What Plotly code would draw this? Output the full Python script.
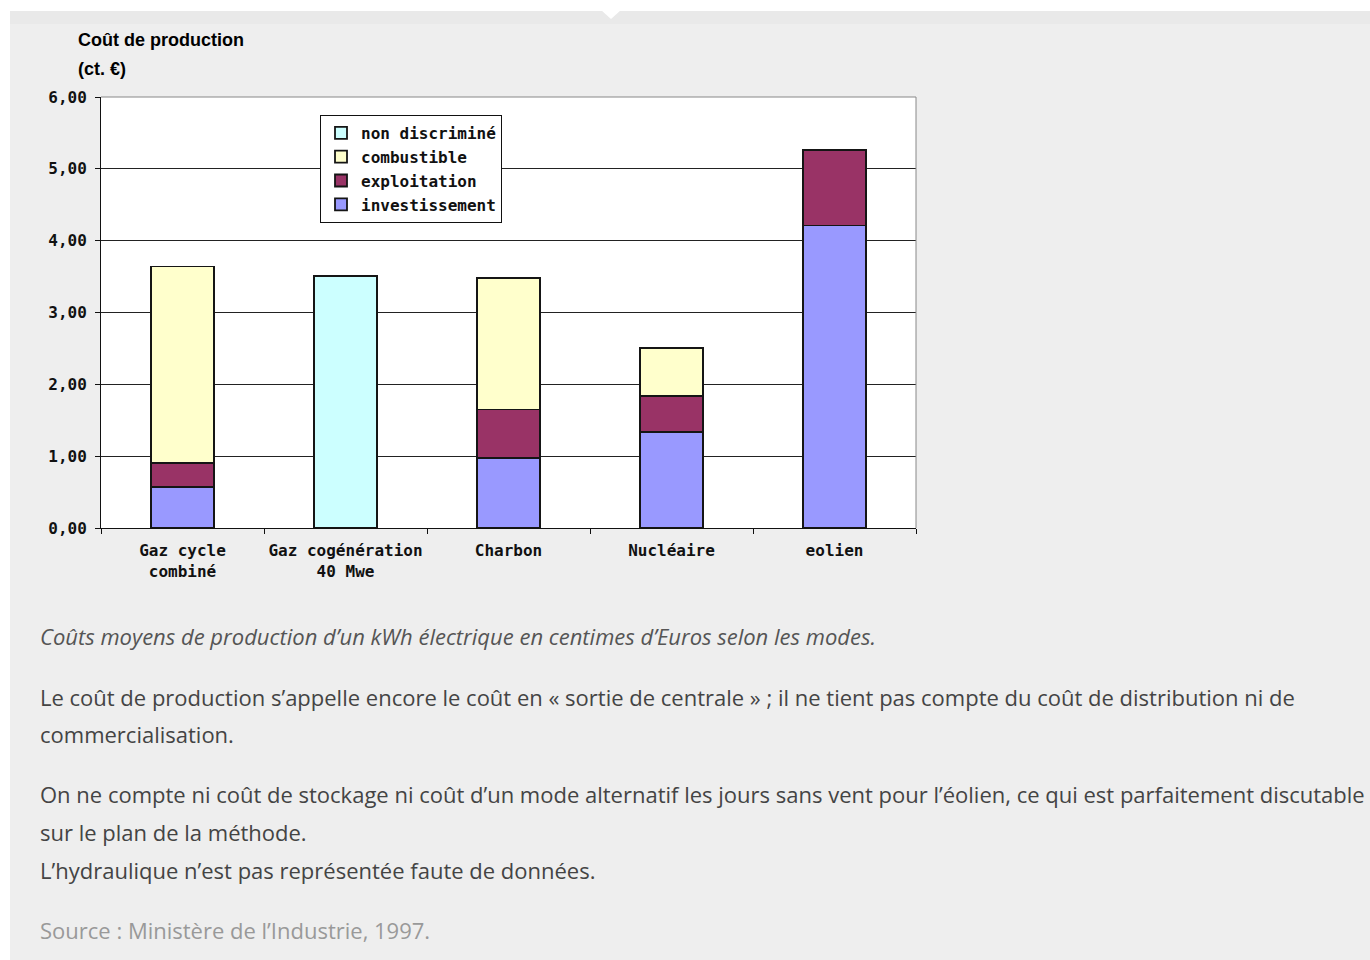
import plotly.graph_objects as go

categories = ["Gaz cycle<br>combiné", "Gaz cogénération<br>40 Mwe", "Charbon", "Nucléaire", "eolien"]
investissement = [0.57, 0.0, 0.97, 1.34, 4.21]
exploitation = [0.33, 0.0, 0.68, 0.50, 1.05]
combustible = [2.74, 0.0, 1.83, 0.67, 0.0]
non_discrimine = [0.0, 3.51, 0.0, 0.0, 0.0]
y_ticks = [0, 1, 2, 3, 4, 5, 6]

series = [
    ("investissement", investissement, "#9999FF"),
    ("exploitation", exploitation, "#993366"),
    ("combustible", combustible, "#FFFFCC"),
    ("non discriminé", non_discrimine, "#CCFFFF"),
]

# plot area in pixels
L, R, T, B = 101, 916, 97, 528
W, H = 1370, 960
PW, PH = R - L, B - T


def px(x):
    return (x - L) / PW


def py(y):
    return (B - y) / PH


CHART_FONT = "DejaVu Sans Mono"
TEXT_FONT = "Open Sans"
TITLE_FONT = "Liberation Sans Narrow, Liberation Sans"

fig = go.Figure()
for name, vals, col in series:
    fig.add_trace(go.Bar(
        x=categories, y=vals, name=name,
        marker=dict(color=col, line=dict(color="#151515", width=1.8)),
    ))

shapes = [
    dict(type="rect", xref="paper", yref="paper", x0=px(10), x1=px(W + 5), y0=py(11), y1=py(H + 5),
         fillcolor="#eeeeee", line=dict(width=0), layer="below"),
    dict(type="rect", xref="paper", yref="paper", x0=px(10), x1=px(W + 5), y0=py(11), y1=py(24),
         fillcolor="#e9e9e9", line=dict(width=0), layer="below"),
    dict(type="rect", xref="paper", yref="paper", x0=0, x1=1, y0=0, y1=1,
         fillcolor="white", line=dict(width=0), layer="below"),
    dict(type="path", xref="paper", yref="paper",
         path=f"M {px(601)},{py(10)} L {px(621)},{py(10)} L {px(611)},{py(19)} Z",
         fillcolor="white", line=dict(width=0), layer="below"),
    dict(type="line", xref="paper", yref="paper", x0=0, x1=1, y0=1, y1=1,
         line=dict(color="#888888", width=1), layer="above"),
    dict(type="line", xref="paper", yref="paper", x0=1, x1=1, y0=0, y1=1,
         line=dict(color="#888888", width=1), layer="above"),
]

annotations = [
    dict(text="Coût de production", x=px(76), y=py(40), xanchor="left", yanchor="middle",
         font=dict(family=TITLE_FONT, size=18, color="#000", weight="bold")),
    dict(text="(ct. €)", x=px(76), y=py(69), xanchor="left", yanchor="middle",
         font=dict(family=TITLE_FONT, size=18, color="#000", weight="bold")),
]

text_lines = [
    ("Coûts moyens de production d’un kWh électrique en centimes d’Euros selon les modes.", 636, "#555555", "italic"),
    ("Le coût de production s’appelle encore le coût en « sortie de centrale » ; il ne tient pas compte du coût de distribution ni de", 697, "#444444", "normal"),
    ("commercialisation.", 734, "#444444", "normal"),
    ("On ne compte ni coût de stockage ni coût d’un mode alternatif les jours sans vent pour l’éolien, ce qui est parfaitement discutable", 794, "#444444", "normal"),
    ("sur le plan de la méthode.", 832, "#444444", "normal"),
    ("L’hydraulique n’est pas représentée faute de données.", 870, "#444444", "normal"),
    ("Source : Ministère de l’Industrie, 1997.", 930, "#999999", "normal"),
]
for txt, yy, col, style in text_lines:
    annotations.append(dict(text=txt, x=px(38), y=py(yy), xanchor="left", yanchor="middle",
                            font=dict(family=TEXT_FONT, size=22, color=col, style=style)))

for a in annotations:
    a.update(xref="paper", yref="paper", showarrow=False)

fig.update_layout(
    width=W, height=H,
    margin=dict(l=L, r=W - R, t=T, b=H - B, pad=0),
    paper_bgcolor="white", plot_bgcolor="white",
    barmode="stack", bargap=0.61,
    separators=",.",
    showlegend=True,
    legend=dict(
        x=px(320), y=py(115), xanchor="left", yanchor="top",
        bgcolor="white", bordercolor="#111", borderwidth=1,
        traceorder="reversed", itemwidth=30, tracegroupgap=0,
        font=dict(family=CHART_FONT, size=16, color="#111", weight="bold"),
    ),
    xaxis=dict(
        showline=True, linecolor="#111", linewidth=1,
        ticks="outside", ticklen=5, tickcolor="#111", tickson="boundaries",
        tickangle=0,
        tickfont=dict(family=CHART_FONT, size=16, color="#111", weight="bold"),
        ticklabelstandoff=8,
        showgrid=False,
    ),
    yaxis=dict(
        range=[0, 6], tickvals=y_ticks, tickformat=".2f",
        showline=True, linecolor="#111", linewidth=1,
        ticks="outside", ticklen=5, tickcolor="#111",
        tickfont=dict(family=CHART_FONT, size=16, color="#111", weight="bold"),
        ticklabelstandoff=5,
        showgrid=True, gridcolor="#222", gridwidth=1,
        zeroline=False,
    ),
    shapes=shapes,
    annotations=annotations,
)

fig.write_html("out.html")
